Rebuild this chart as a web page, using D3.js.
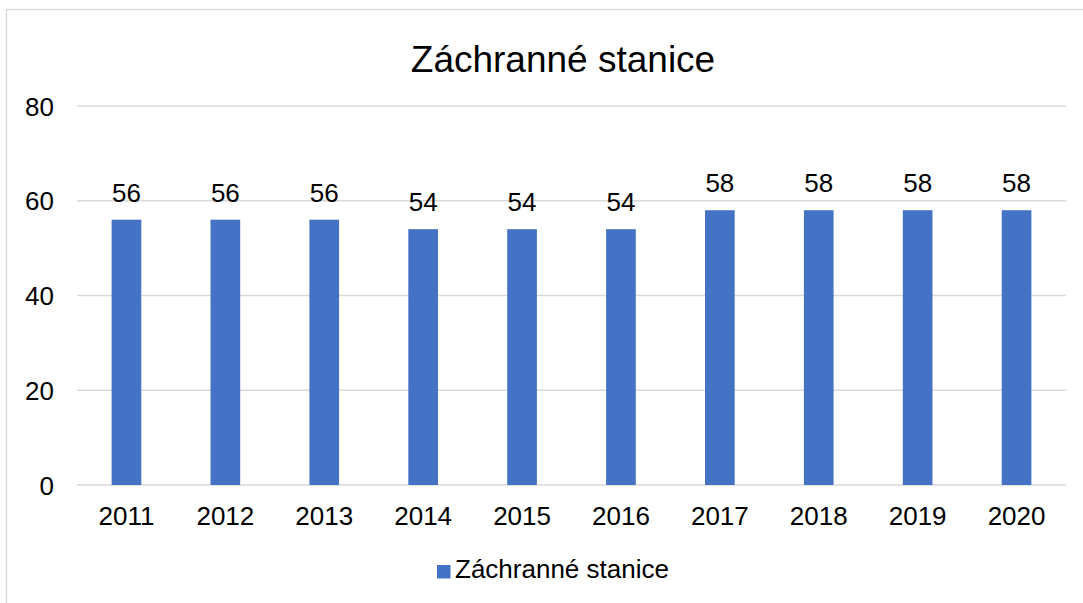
<!DOCTYPE html>
<html><head><meta charset="utf-8">
<script src="https://cdn.jsdelivr.net/npm/d3@7"></script>
<style>html,body{margin:0;padding:0;background:#fff;}svg{display:block;font-family:Arial,"Liberation Sans",sans-serif;}</style>
</head><body>
<svg id="c" width="1083" height="603"></svg>
<script>
const categories = ["2011","2012","2013","2014","2015","2016","2017","2018","2019","2020"];
const values = [56,56,56,54,54,54,58,58,58,58];
const yTicks = [0,20,40,60,80];
const seriesName = "Záchranné stanice";
const title = "Záchranné stanice";

const svg = d3.select("#c");
svg.append("rect").attr("x",0).attr("y",0).attr("width",1083).attr("height",603).attr("fill","#fff");
// chart border (extends beyond view on right/bottom)
svg.append("rect").attr("x",6.5).attr("y",9.5).attr("width",1200).attr("height",700)
  .attr("fill","none").attr("stroke","#d9d9d9").attr("stroke-width",1.3);

const x = d3.scaleBand().domain(categories).range([77,1066]).paddingInner(0.7).paddingOuter(0.35);
const y = d3.scaleLinear().domain([0,80]).range([485,106]);

// gridlines
svg.append("g").selectAll("line").data(yTicks).join("line")
  .attr("x1",77).attr("x2",1066).attr("y1",d=>y(d)).attr("y2",d=>y(d))
  .attr("stroke","#d9d9d9").attr("stroke-width",1.3);

// y axis labels
const yAxis = d3.axisLeft(y).tickValues(yTicks).tickSize(0).tickPadding(0);
const ga = svg.append("g").attr("transform","translate(54,0)").call(yAxis);
ga.select(".domain").remove();
ga.selectAll("text").attr("font-size",26).attr("fill","#000").attr("font-family","Arial, 'Liberation Sans', sans-serif").attr("dy","0.35em");

// bars
svg.append("g").selectAll("rect").data(values).join("rect")
  .attr("x",(d,i)=>x(categories[i])).attr("width",x.bandwidth())
  .attr("y",d=>y(d)).attr("height",d=>y(0)-y(d)).attr("fill","#4472C4");

// data labels
svg.append("g").selectAll("text").data(values).join("text")
  .attr("x",(d,i)=>x(categories[i])+x.bandwidth()/2).attr("y",d=>y(d)-18)
  .attr("text-anchor","middle").attr("font-size",26).attr("fill","#000").text(d=>d);

// x axis labels
const xAxis = d3.axisBottom(x).tickSize(0).tickPadding(0);
const gx = svg.append("g").attr("transform","translate(0,485)").call(xAxis);
gx.select(".domain").remove();
gx.selectAll("text").attr("font-size",26).attr("fill","#000").attr("font-family","Arial, 'Liberation Sans', sans-serif").attr("dy",null).attr("y",40);

// title
svg.append("text").attr("x",563).attr("y",72).attr("text-anchor","middle")
  .attr("font-size",37).attr("fill","#000").text(title);

// legend
svg.append("rect").attr("x",437).attr("y",565).attr("width",13.5).attr("height",13.5).attr("fill","#4472C4");
svg.append("text").attr("x",455).attr("y",578).attr("font-size",26).attr("fill","#000").text(seriesName);
</script>
</body></html>
